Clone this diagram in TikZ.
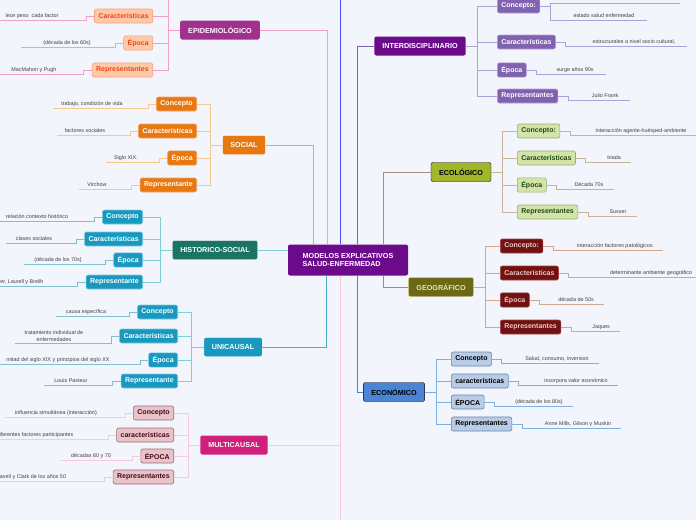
\documentclass[tikz,border=0pt]{standalone}
\usepackage{fontspec}
\setmainfont{Liberation Sans}
\usetikzlibrary{positioning}
\definecolor{bg}{HTML}{F3F5FD}
\definecolor{cmain}{HTML}{6C0A8C}
\definecolor{cepi}{HTML}{A2308F}\definecolor{lepi}{HTML}{F0A0C8}
\definecolor{fepi}{HTML}{FFC9A8}\definecolor{depi}{HTML}{F4A27C}\definecolor{tepi}{HTML}{E8461E}
\definecolor{csoc}{HTML}{E87810}\definecolor{lsoc}{HTML}{F5C890}\definecolor{dsoc}{HTML}{F0A060}
\definecolor{chis}{HTML}{1C7562}\definecolor{lhis}{HTML}{80D0D8}\definecolor{fhis}{HTML}{1899C0}\definecolor{dhis}{HTML}{80C8E0}
\definecolor{lmul}{HTML}{F8C8DC}\definecolor{cmul}{HTML}{D0207C}
\definecolor{fmul}{HTML}{E8C4C8}\definecolor{dmul}{HTML}{A06878}\definecolor{tmul}{HTML}{4A0818}
\definecolor{linter}{HTML}{B0A0D8}\definecolor{finter}{HTML}{8062B0}
\definecolor{ceco}{HTML}{A2B62A}\definecolor{leco}{HTML}{C8B498}
\definecolor{feco}{HTML}{D4E4A8}\definecolor{deco}{HTML}{90B070}\definecolor{teco}{HTML}{1A4A1A}
\definecolor{cgeo}{HTML}{6C6818}\definecolor{dgeo}{HTML}{E8D890}\definecolor{tgeo}{HTML}{F0E4A0}\definecolor{lgeo}{HTML}{D0A890}
\definecolor{fgeo}{HTML}{701212}\definecolor{dgeo2}{HTML}{A04040}\definecolor{tgeo2}{HTML}{F0C8C8}
\definecolor{cecon}{HTML}{4A84D4}\definecolor{lecon}{HTML}{80B0E0}\definecolor{fecon}{HTML}{B8CCE6}\definecolor{decon}{HTML}{6884A8}
\tikzset{
  topic/.style={rounded corners=2pt, font=\bfseries\fontsize{7.2}{8}\selectfont, text=white, minimum height=19pt, inner xsep=8pt},
  sub/.style={rounded corners=2pt, font=\bfseries\fontsize{7}{8}\selectfont, minimum height=14pt, inner xsep=4pt, draw, line width=0.6pt},
  leaf/.style={font=\fontsize{5.4}{6.4}\selectfont, text=black!75, inner sep=2pt, align=center},
  link/.style={line width=0.8pt},
}
\begin{document}
\begin{tikzpicture}[x=1pt,y=-1pt]
    \fill[bg] (0,0) rectangle (696,520);
    \useasboundingbox (0,0) rectangle (696,520);

    % Center
    \node[topic, fill=cmain, align=left, minimum width=120pt, minimum height=31pt, font=\bfseries\fontsize{7.2}{8.5}\selectfont] (center) at (348,260) {MODELOS EXPLICATIVOS\\SALUD-ENFERMEDAD};
    \coordinate (topend) at (340,0);
    \coordinate (botend) at (340,520);
    \draw[link, blue!70] ([xshift=-8]center.north) -- (topend);
    \draw[link, lmul] ([xshift=-8]center.south) -- (botend);

    % Left topics
    \node[topic, fill=cepi] (epi) at (220,30) {EPIDEMIOLÓGICO};
    \node[topic, fill=csoc, draw=white] (social) at (244,145) {SOCIAL};
    \node[topic, fill=chis, draw=white] (hist) at (215,250) {HISTORICO-SOCIAL};
    \node[topic, fill=fhis, draw=white] (uni) at (233,347) {UNICAUSAL};
    \node[topic, fill=cmul] (multi) at (234,445) {MULTICAUSAL};

    % Right topics
    \node[topic, fill=cmain] (inter) at (420,46) {INTERDISCIPLINARIO};
    \node[topic, fill=ceco, draw=black, text=black] (eco) at (461,172) {ECOLÓGICO};
    \node[topic, fill=cgeo, draw=dgeo, text=tgeo] (geo) at (441,287) {GEOGRÁFICO};
    \node[topic, fill=cecon, draw=black, text=black] (econ) at (394,392) {ECONÓMICO};

    % Center to topics
    \draw[link, lepi] (epi.east) -| ([xshift=-21]center.north);
    \draw[link, dsoc] (social.east) -| ([xshift=-35]center.north);
    \draw[link, lhis] (hist.east) -- (hist.east -| center.west);
    \draw[link, fhis!80] (uni.east) -| ([xshift=-22]center.south);
    \draw[link, lmul] (multi.east) -| ([xshift=-8]center.south);
    \draw[link, finter] ([xshift=9]center.north) |- (inter.west);
    \draw[link, leco!80!black] ([xshift=35]center.north) |- (eco.west);
    \draw[link, lgeo!80!black] ([xshift=35]center.south) |- (geo.west);
    \draw[link, cecon] ([xshift=9]center.south) |- (econ.west);

    % EPIDEMIOLOGICO
    \draw[link, lepi] (epi.west) -- ++(-12,0) -- ++(0,-35);
    \foreach \i/\y/\lab/\lx/\txt in {1/16/Características/32/lece peso \ cada factor, 2/43/Época/67/(década de los 60s), 3/70/Representantes/34/MacMahon y Pugh} {
        \node[sub, fill=fepi, draw=depi, text=tepi, anchor=east] (epi\i) at (153,\y) {\lab};
        \node[leaf] (epil\i) at (\lx,\y) {\txt};
        \draw[link, lepi] (epi.west) -- ++(-12,0) |- (epi\i.east);
        \draw[link, lepi] (epi\i.west) -- ++(-8,0) |- (epil\i.south east) -- ([xshift=-20]epil\i.south west);
    }

    % SOCIAL
    \foreach \i/\y/\lab/\lx/\txt in {1/104/Concepto/92/{trabajo, condición de vida}, 2/131/Características/85/factores sociales, 3/158/Época/126/Siglo XIX., 4/185/Representante/97/Virchow} {
        \node[sub, fill=csoc, draw=dsoc, text=white, anchor=east] (soc\i) at (197,\y) {\lab};
        \node[leaf] (socl\i) at (\lx,\y) {\txt};
        \draw[link, lsoc] (social.west) -- ++(-12,0) |- (soc\i.east);
        \draw[link, lsoc] (soc\i.west) -- ++(-8,0) |- (socl\i.south east) -- ([xshift=-6]socl\i.south west);
    }

    % HISTORICO-SOCIAL
    \foreach \i/\y/\lab/\lx/\txt in {1/217/Concepto/37/relación contexto histórico, 2/239/Características/34/clases sociales, 3/260/Época/58/(década de los 70s), 4/282/Representante/12/{Berlinguer, Laurell y Breilh}} {
        \node[sub, fill=fhis, draw=dhis, text=white, anchor=east] (his\i) at (143,\y) {\lab};
        \node[leaf] (hisl\i) at (\lx,\y) {\txt};
        \draw[link, lhis] (hist.west) -- ++(-12,0) |- (his\i.east);
        \draw[link, lhis!80!gray] (his\i.west) -- ++(-8,0) |- (hisl\i.south east) -- ([xshift=-8]hisl\i.south west);
    }

    % UNICAUSAL
    \foreach \i/\y/\lab/\lx/\txt in {1/312/Concepto/86/causa específica, 2/336/Características/54/tratamiento individual de\\enfermedades, 3/360/Época/58/mitad del siglo XIX y principios del siglo XX, 4/381/Representante/71/Louis Pasteur} {
        \node[sub, fill=fhis, draw=dhis, text=white, anchor=east] (uni\i) at (178,\y) {\lab};
        \node[leaf] (unil\i) at (\lx,\y) {\txt};
        \draw[link, lhis] (uni.west) -- ++(-12,0) |- (uni\i.east);
        \draw[link, lhis!80!gray] (uni\i.west) -- ++(-8,0) |- (unil\i.south east) -- ([xshift=-8]unil\i.south west);
    }

    % MULTICAUSAL
    \foreach \i/\y/\lab/\lx/\txt in {1/413/Concepto/56/influencia simultánea (interacción), 2/435/características/35/diferentes factores participantes, 3/456/ÉPOCA/91/décadas 60 y 70, 4/477/Representantes/30/Leavell y Clark de los años 50} {
        \node[sub, fill=fmul, draw=dmul, text=tmul, anchor=east] (mul\i) at (174,\y) {\lab};
        \node[leaf] (mull\i) at (\lx,\y) {\txt};
        \draw[link, lmul] (multi.west) -- ++(-12,0) |- (mul\i.east);
        \draw[link, lmul] (mul\i.west) -- ++(-8,0) |- (mull\i.south east) -- ([xshift=-8]mull\i.south west);
    }

    % INTERDISCIPLINARIO
    \foreach \i/\y/\lab/\lx/\txt in {1/6/Concepto:/604/estado salud enfermedad, 2/42/Características/634/{estructurales a nivel socio cultural,}, 3/70/Época/575/surge años 90s, 4/96/Representantes/605/Julio Frank} {
        \node[sub, fill=finter, draw=linter, text=white, anchor=west] (int\i) at (497,\y) {\lab};
        \node[leaf] (intl\i) at (\lx,\ifnum\i=1 16\else\y\fi) {\txt};
        \draw[link, linter] (inter.east) -- ++(12,0) |- (int\i.west);
        \draw[link, linter] (int\i.east) -- ++(10,0) |- (intl\i.south west) -- ([xshift=10]intl\i.south east);
    }
    \coordinate (intconc) at (680,3);
    \draw[link, linter] (int1.east) -- ++(10,0) |- (intconc);

    % ECOLOGICO
    \foreach \i/\y/\lab/\lx/\txt in {1/131/Concepto:/641/interacción agente-huésped-ambiente, 2/158/Características/614/triada, 3/185/Época/589/Década 70s, 4/212/Representantes/618/Susser} {
        \node[sub, fill=feco, draw=deco, text=teco, anchor=west] (eco\i) at (517,\y) {\lab};
        \node[leaf] (ecol\i) at (\lx,\y) {\txt};
        \draw[link, leco] (eco.east) -- ++(11,0) |- (eco\i.west);
        \draw[link, leco] (eco\i.east) -- ++(10,0) |- (ecol\i.south west) -- ([xshift=8]ecol\i.south east);
    }

    % GEOGRAFICO
    \foreach \i/\y/\lab/\lx/\txt in {1/246/Concepto:/615/interacción factores patológicos, 2/273/Características/651/determinante ambiente geográfico, 3/300/Época/576/década de 50s, 4/327/Representantes/601/Jaques} {
        \node[sub, fill=fgeo, draw=dgeo2, text=tgeo2, anchor=west] (geo\i) at (500,\y) {\lab};
        \node[leaf] (geol\i) at (\lx,\y) {\txt};
        \draw[link, lgeo] (geo.east) -- ++(12,0) |- (geo\i.west);
        \draw[link, lgeo] (geo\i.east) -- ++(10,0) |- (geol\i.south west) -- ([xshift=8]geol\i.south east);
    }

    % ECONOMICO
    \foreach \i/\y/\lab/\lx/\txt in {1/359/Concepto/557/{Salud, consumo, inversion}, 2/381/características/576/incorpora valor económico, 3/402/ÉPOCA/539/(década de los 80s), 4/424/Representantes/578/{Anne Mills, Gilson y Muskin}} {
        \node[sub, fill=fecon, draw=decon, text=black, anchor=west] (ecn\i) at (451,\y) {\lab};
        \node[leaf] (ecnl\i) at (\lx,\y) {\txt};
        \draw[link, lecon] (econ.east) -- ++(12,0) |- (ecn\i.west);
        \draw[link, lecon] (ecn\i.east) -- ++(10,0) |- (ecnl\i.south west) -- ([xshift=8]ecnl\i.south east);
    }
\end{tikzpicture}
\end{document}
